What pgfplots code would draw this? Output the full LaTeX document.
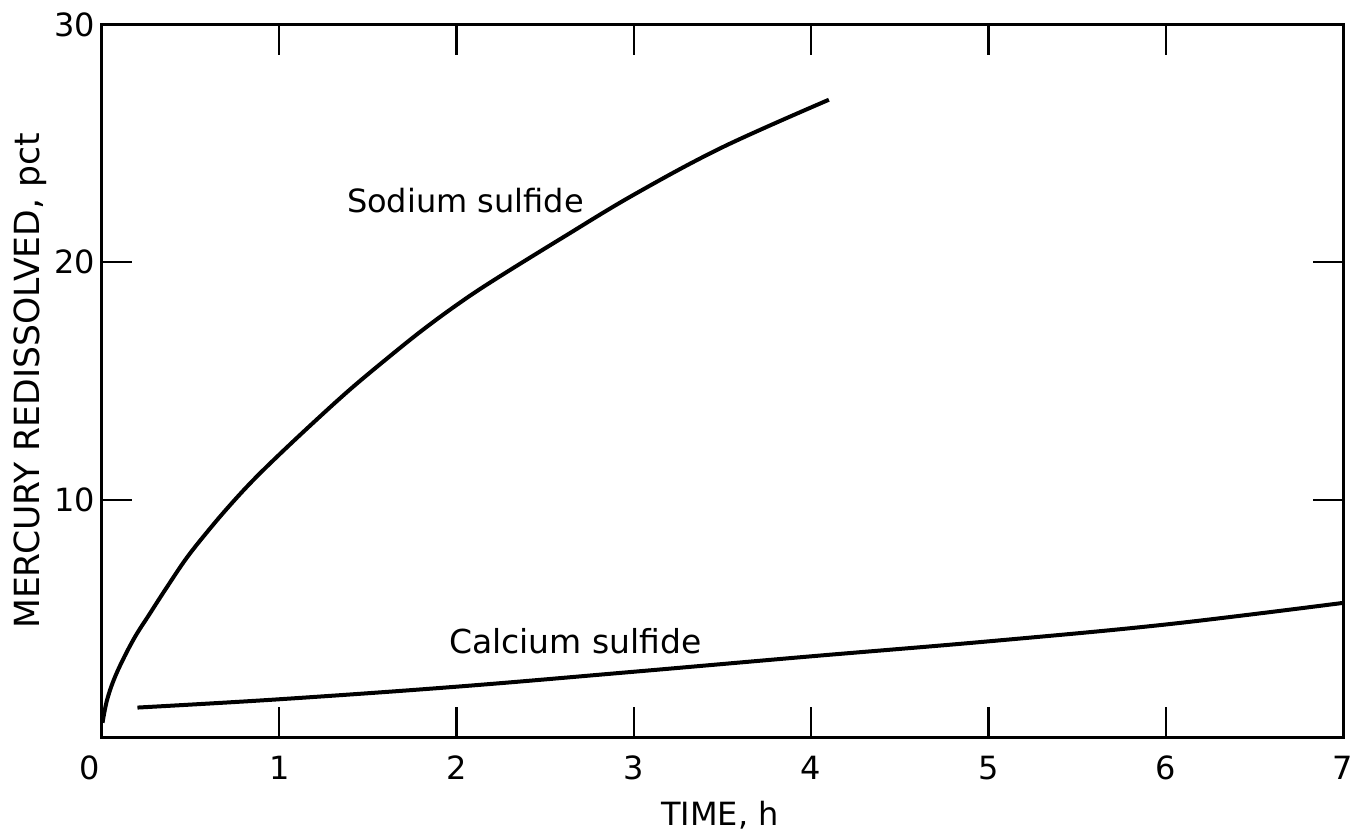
\documentclass[border=0pt]{standalone}
\usepackage{fontspec}
\setmainfont{DejaVu Sans}
\usepackage{pgfplots}
\pgfplotsset{compat=1.18}
\begin{document}
\begin{tikzpicture}
\useasboundingbox (-51pt,-49pt) rectangle (625pt,368.5pt);
\begin{axis}[
  at={(0,0)}, anchor=south west,
  scale only axis, width=620.5pt, height=356pt,
  xmin=0, xmax=7, ymin=0, ymax=30,
  xtick={0,1,2,3,4,5,6,7},
  xticklabels={\llap{0\hspace*{1pt}},1,2,3,4,5,6,7},
  ytick={10,20,30},
  tick align=inside,
  major tick length=15pt,
  axis line style={line width=1.5pt},
  every tick/.style={black, line width=1.1pt},
  /pgf/number format/assume math mode=true,
  tick label style={font=\fontsize{16}{19}\selectfont},
  xticklabel style={yshift=-6pt},
  xlabel style={font=\fontsize{16}{19}\selectfont},
  ylabel style={font=\fontsize{17.3}{20}\selectfont},
  xlabel={TIME, h},
  ylabel={MERCURY REDISSOLVED, pct},
  xlabel style={at={(axis description cs:0.498,-0.11)}, anchor=center},
  ylabel style={at={(axis description cs:-0.058,0.5)}, anchor=center},
  clip=false,
]
\addplot[black, line width=2pt, smooth, tension=0.6] coordinates {
 (0.003,0.6) (0.03,1.6) (0.083,2.7) (0.177,4.1) (0.27,5.2) (0.365,6.3)
 (0.478,7.55) (0.6,8.7) (0.72,9.75) (0.85,10.8) (1.0,11.9) (1.2,13.3)
 (1.4,14.65) (1.6,15.9) (1.8,17.1) (2.0,18.2) (2.2,19.2) (2.6,21.05)
 (3.0,22.85) (3.5,24.85) (4.1,26.85)
};
\addplot[black, line width=2pt, smooth, tension=0.6] coordinates {
 (0.2,1.24) (1,1.59) (2,2.12) (3,2.75) (4,3.4) (5,4.03) (6,4.74) (7,5.65)
};
\node[font=\fontsize{16}{19}\selectfont] at (axis cs:2.05,22.6) {Sodium sulfide};
\node[font=\fontsize{16.5}{19}\selectfont] at (axis cs:2.67,4.05) {Calcium sulfide};
\end{axis}
\end{tikzpicture}
\end{document}
